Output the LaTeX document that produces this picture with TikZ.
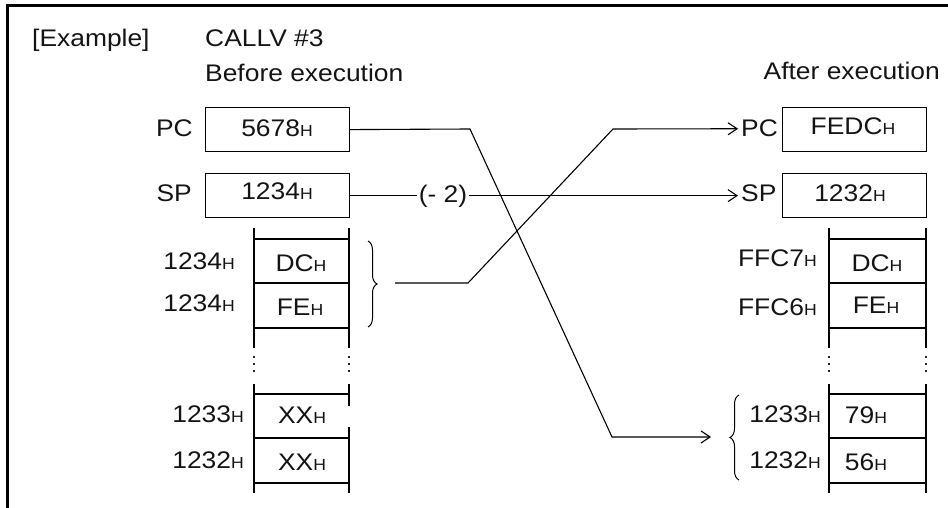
\documentclass[tikz,border=0pt]{standalone}
\usepackage{fontspec}
\setmainfont{Liberation Sans}[FakeStretch=1.1]
\usetikzlibrary{arrows.meta,decorations.pathreplacing}
\newcommand\hs{{\fontsize{16}{16}\selectfont H}}
\begin{document}
\begin{tikzpicture}[x=1pt,y=-1pt,
  every node/.style={font=\fontsize{24}{26}\selectfont, text=black!92, inner sep=0pt},
  regbox/.style={draw, line width=1.2pt, minimum width=144pt, minimum height=44pt, anchor=north west},
  conn/.style={line width=1.1pt},
  arr/.style={conn, -{Straight Barb[length=9pt,width=12pt]}},
  memline/.style={line width=1.2pt},
  bracestyle/.style={line width=1pt, decorate, decoration={brace, amplitude=9pt}}
]
\useasboundingbox (0,0) rectangle (948,508);
% frame
\draw[line width=3pt] (7.5,508) -- (7.5,5.5) -- (948,5.5);

% headings
\node[anchor=base west] (ex) at (32,47) {[Example]};
\node[anchor=base west] (call) at (205,47) {CALLV \#3};
\node[anchor=base west] (before) at (205,82) {Before execution};
\node[anchor=base east] (after) at (940,80) {After execution};

% registers
\node[regbox] (pcL) at (205,107) {};
\node[regbox] (spL) at (205,173) {};
\node[regbox] (pcR) at (782,107) {};
\node[regbox] (spR) at (782,173) {};

\node[anchor=base east] (pcLlab) at (193,137) {PC};
\node[anchor=base east] (spLlab) at (192,201) {SP};
\node[anchor=base] (pcLval) at (277,137) {5678\hs};
\node[anchor=base] (spLval) at (277,200) {1234\hs};
\node[anchor=base west] (pcRlab) at (741,137) {PC};
\node[anchor=base west] (spRlab) at (741,201) {SP};
\node[anchor=base] (pcRval) at (853,135) {FEDC\hs};
\node[anchor=base] (spRval) at (850,201) {1232\hs};

% memory columns
\foreach \x in {254,829,926} {
  \draw[memline] (\x,228) -- (\x,348);
  \draw[memline] (\x,384) -- (\x,493);
}
\draw[memline] (349,228) -- (349,348);
\draw[memline] (349,384) -- (349,406);
\draw[memline] (349,427) -- (349,493);
\foreach \x in {254,349,829,926} {
  \foreach \y in {357,364,371} \fill[black!85] (\x-1,\y-1) rectangle ++(2,2);
}
\foreach \y in {239,283,328,394,438,483} {
  \draw[memline] (254,\y) -- (349,\y);
  \draw[memline] (829,\y) -- (926,\y);
}

% memory texts (before)
\node[anchor=base east] (aL1) at (235,269) {1234\hs};
\node[anchor=base east] (aL2) at (235,311) {1234\hs};
\node[anchor=base] (vL1) at (301,271) {DC\hs};
\node[anchor=base] (vL2) at (300,315) {FE\hs};
\node[anchor=base east] (aL3) at (244,422) {1233\hs};
\node[anchor=base east] (aL4) at (244,468) {1232\hs};
\node[anchor=base] (vL3) at (302,423) {XX\hs};
\node[anchor=base] (vL4) at (302,470) {XX\hs};
% memory texts (after)
\node[anchor=base east] (aR1) at (817,266) {FFC7\hs};
\node[anchor=base east] (aR2) at (817,315) {FFC6\hs};
\node[anchor=base] (vR1) at (877,271) {DC\hs};
\node[anchor=base] (vR2) at (876,313) {FE\hs};
\node[anchor=base east] (aR3) at (821,422) {1233\hs};
\node[anchor=base east] (aR4) at (821,468) {1232\hs};
\node[anchor=base] (vR3) at (866,423) {79\hs};
\node[anchor=base] (vR4) at (866,470) {56\hs};

% braces
\draw[bracestyle] (368,241) -- (368,327);
\draw[bracestyle] (739,480) -- (739,395);
\coordinate (bL) at (395,283);
\coordinate (bR) at (711,437);

% connectors
\draw[arr] (pcL.east) -- (470,129) -- (612,437) -- (bR);
\draw[arr, shorten >=3pt] (bL) -- (468,283) -- (613,129) -- (pcRlab.west);
\node[inner sep=1.5pt] (m2) at (443,196) {(- 2)};
\draw[conn] (spL.east) -- (m2.west |- spL.east);
\draw[arr, shorten >=3pt] (m2.east |- spL.east) -- (spRlab.west |- spL.east);
\end{tikzpicture}
\end{document}
